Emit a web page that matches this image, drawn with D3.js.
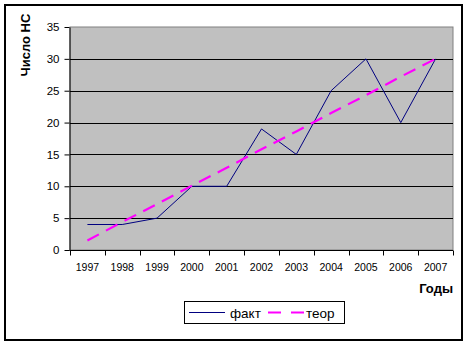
<!DOCTYPE html>
<html>
<head>
<meta charset="utf-8">
<script src="https://cdn.jsdelivr.net/npm/d3@7"></script>
<style>
  html, body { margin: 0; padding: 0; background: #fff; }
  svg { display: block; font-family: "Liberation Sans", Arial, sans-serif; }
</style>
</head>
<body>
<svg id="chart" width="469" height="346"></svg>
<script>
// Years on the category axis
const years = ["1997", "1998", "1999", "2000", "2001", "2002", "2003", "2004", "2005", "2006", "2007"];
// Actual counts ("факт")
const fact = [4, 4, 5, 10, 10, 19, 15, 25, 30, 20, 30];
// Theoretical trend ("теор")
const theor = [1.5, 4.4, 7.2, 10.1, 12.9, 15.8, 18.6, 21.5, 24.3, 27.2, 30];
// Value axis ticks
const yTicks = [0, 5, 10, 15, 20, 25, 30, 35];
const seriesNames = ["факт", "теор"];

const svg = d3.select("#chart");
const plot = { left: 70, right: 453, top: 27, bottom: 250 };

// Outer frame
svg.append("rect")
  .attr("x", 5).attr("y", 5).attr("width", 457).attr("height", 335)
  .attr("fill", "#fff").attr("stroke", "#000").attr("stroke-width", 2);

const x = d3.scaleBand().domain(years).range([plot.left, plot.right]).padding(0);
const y = d3.scaleLinear().domain([0, 35]).range([plot.bottom, plot.top]);

// Plot area
svg.append("rect")
  .attr("x", plot.left).attr("y", plot.top)
  .attr("width", plot.right - plot.left).attr("height", plot.bottom - plot.top)
  .attr("fill", "#C0C0C0").attr("stroke", "#808080").attr("stroke-width", 1);

// Horizontal gridlines
svg.append("g").selectAll("line").data(yTicks.filter(d => d > 0 && d < 35)).join("line")
  .attr("x1", plot.left).attr("x2", plot.right)
  .attr("y1", d => Math.round(y(d)) + 0.5).attr("y2", d => Math.round(y(d)) + 0.5)
  .attr("stroke", "#000").attr("stroke-width", 1);

// Y axis
const yAxis = svg.append("g")
  .attr("transform", `translate(${plot.left - 0.5},0)`)
  .call(d3.axisLeft(y).tickValues(yTicks).tickSize(5).tickPadding(5).tickSizeOuter(0));
yAxis.select(".domain").attr("stroke", "#000");
yAxis.selectAll(".tick line").attr("stroke", "#000");
yAxis.selectAll("text").attr("font-size", "11.5px").attr("fill", "#000")
  .attr("font-family", "'Liberation Sans', Arial, sans-serif");

// X axis: ticks between categories
const xAxisG = svg.append("g").attr("transform", `translate(0,${plot.bottom + 0.5})`);
xAxisG.append("line")
  .attr("x1", plot.left - 0.5).attr("x2", plot.right)
  .attr("stroke", "#000");
const boundaries = years.map(d => x(d)).concat([x(years[years.length - 1]) + x.bandwidth()]);
xAxisG.selectAll("line.tk").data(boundaries).join("line").attr("class", "tk")
  .attr("x1", d => Math.round(d) + 0.5).attr("x2", d => Math.round(d) + 0.5)
  .attr("y1", 0).attr("y2", 5).attr("stroke", "#000");
xAxisG.selectAll("text").data(years).join("text")
  .attr("x", d => x(d) + x.bandwidth() / 2)
  .attr("y", 20)
  .attr("text-anchor", "middle")
  .attr("font-size", "10.5px")
  .text(d => d);

// Axis titles
svg.append("text")
  .attr("transform", "translate(30,45) rotate(-90)")
  .attr("text-anchor", "middle")
  .attr("font-size", "13px").attr("font-weight", "bold")
  .text("Число НС");
svg.append("text")
  .attr("x", 453).attr("y", 293)
  .attr("text-anchor", "end")
  .attr("font-size", "13px").attr("font-weight", "bold")
  .text("Годы");

const cx = d => x(d) + x.bandwidth() / 2;

// Series lines
const line = d3.line().x((d, i) => cx(years[i])).y(d => y(d));
svg.append("path").datum(fact)
  .attr("d", line).attr("fill", "none")
  .attr("stroke", "#000080").attr("stroke-width", 1);
svg.append("path").datum(theor)
  .attr("d", line).attr("fill", "none")
  .attr("stroke", "#FF00FF").attr("stroke-width", 2.2)
  .attr("stroke-dasharray", "13,8");

// Legend
const lg = svg.append("g");
lg.append("rect")
  .attr("x", 184.5).attr("y", 301.5).attr("width", 160).attr("height", 22)
  .attr("fill", "#fff").attr("stroke", "#000").attr("stroke-width", 1);
lg.append("line")
  .attr("x1", 189).attr("x2", 225).attr("y1", 312.5).attr("y2", 312.5)
  .attr("stroke", "#000080").attr("stroke-width", 1);
lg.append("text").attr("x", 230).attr("y", 317.5).attr("font-size", "13.5px").text(seriesNames[0]);
lg.append("line")
  .attr("x1", 268).attr("x2", 304).attr("y1", 312.5).attr("y2", 312.5)
  .attr("stroke", "#FF00FF").attr("stroke-width", 2.2)
  .attr("stroke-dasharray", "13,10");
lg.append("text").attr("x", 306).attr("y", 317.5).attr("font-size", "13.5px").text(seriesNames[1]);
</script>
</body>
</html>
